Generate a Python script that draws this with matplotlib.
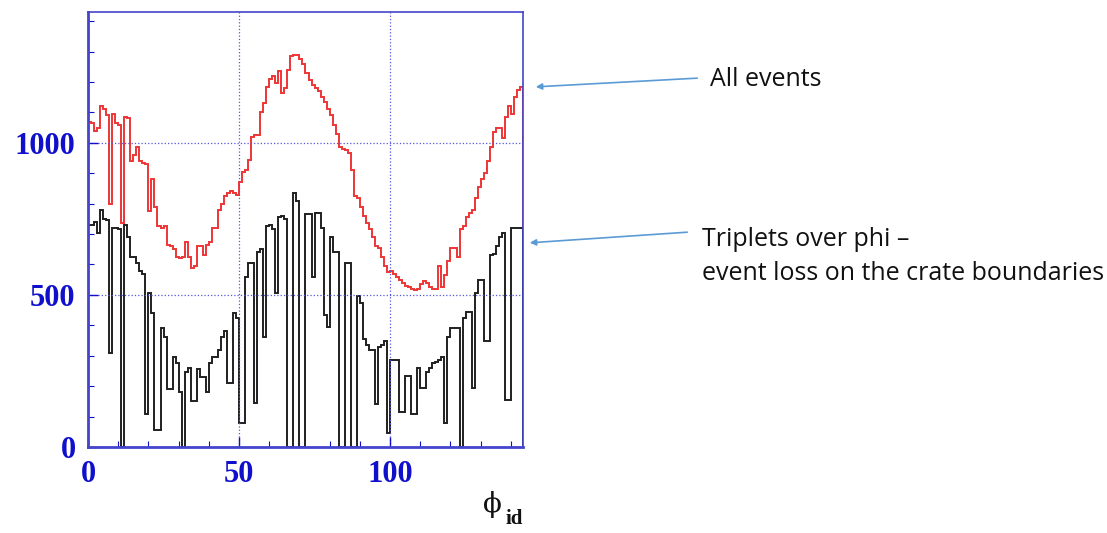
import numpy as np
import matplotlib.pyplot as plt
from matplotlib.ticker import MultipleLocator

# phi_id bins 0..143 (one bin per unit)
all_events = [
    1070, 1065, 1040, 1050, 1120, 1110, 1090, 800, 1095, 1065,
    1060, 735, 1085, 1080, 940, 960, 985, 940, 935, 930,
    775, 880, 790, 725, 720, 725, 665, 660, 650, 625,
    620, 625, 675, 625, 590, 595, 660, 660, 630, 665,
    675, 720, 720, 780, 800, 825, 835, 840, 835, 830,
    870, 905, 910, 945, 1020, 1025, 1025, 1100, 1130, 1185,
    1210, 1220, 1195, 1235, 1165, 1180, 1240, 1285, 1290, 1290,
    1275, 1258, 1230, 1205, 1190, 1180, 1170, 1150, 1135, 1110,
    1090, 1060, 1030, 985, 980, 975, 965, 910, 825, 820,
    790, 760, 735, 715, 690, 660, 655, 625, 595, 575,
    580, 570, 560, 550, 540, 530, 525, 518, 515, 520,
    535, 545, 540, 525, 520, 520, 595, 525, 565, 610,
    655, 655, 625, 715, 725, 755, 770, 780, 820, 855,
    880, 900, 940, 985, 1035, 1050, 1050, 1015, 1085, 1120,
    1095, 1150, 1175, 1185,
]

triplets = [
    730, 730, 740, 705, 780, 750, 745, 310, 720, 720,
    715, 0, 730, 690, 625, 625, 605, 580, 570, 110,
    505, 440, 55, 55, 390, 360, 190, 190, 295, 275,
    180, 0, 245, 260, 150, 150, 255, 230, 230, 180,
    275, 295, 295, 320, 360, 380, 210, 210, 440, 425,
    80, 80, 560, 605, 605, 145, 640, 650, 360, 725,
    730, 715, 505, 755, 760, 750, 0, 0, 835, 810,
    0, 0, 765, 765, 560, 770, 770, 720, 435, 395,
    690, 640, 640, 0, 0, 605, 605, 0, 0, 495,
    475, 355, 335, 320, 320, 140, 330, 335, 350, 45,
    285, 285, 285, 115, 115, 235, 235, 110, 110, 260,
    195, 195, 245, 260, 275, 280, 285, 295, 80, 360,
    390, 390, 390, 0, 425, 445, 445, 195, 505, 550,
    550, 350, 350, 630, 635, 660, 690, 705, 155, 155,
    720, 720, 720, 720,
]

edges = np.arange(len(all_events) + 1)

blue = '#0f0fcc'
fig = plt.figure(figsize=(11.07, 5.33), dpi=100)
ax = fig.add_axes([88 / 1107, 86 / 533, 435 / 1107, 435 / 533])

ax.stairs(all_events, edges, baseline=0, color='#ee3535', lw=1.4)
ax.stairs(triplets, edges, baseline=0, color='#202020', lw=1.4)

ax.set_xlim(0, 144)
ax.set_ylim(0, 1430)

ax.xaxis.set_major_locator(MultipleLocator(50))
ax.xaxis.set_minor_locator(MultipleLocator(10))
ax.yaxis.set_major_locator(MultipleLocator(500))
ax.yaxis.set_minor_locator(MultipleLocator(100))
ax.grid(True, which='major', color='#5555dd', ls=':', lw=0.9)

for s in ax.spines.values():
    s.set_color('#4444cc')
    s.set_linewidth(1.2)
ax.spines['left'].set_linewidth(2.0)
ax.spines['bottom'].set_linewidth(2.0)

ax.tick_params(which='both', direction='in', colors=blue, top=False, right=False)
ax.tick_params(which='major', length=7, width=1.0)
ax.tick_params(which='minor', length=4, width=0.8)
ax.tick_params(axis='x', pad=9)
ax.tick_params(axis='y', pad=9)
for lab in ax.get_xticklabels() + ax.get_yticklabels():
    lab.set_fontfamily('Liberation Serif')
    lab.set_fontweight('bold')
    lab.set_fontsize(22)
    lab.set_color(blue)

# axis title: phi with subscript "id"
fig.text(492 / 1107, 1 - 505 / 533, '\u03d5', family='DejaVu Serif',
         fontsize=20, ha='center', va='center', color='#111111')
fig.text(514 / 1107, 1 - 519 / 533, 'id', family='Liberation Serif', fontweight='bold',
         fontsize=15, ha='center', va='center', color='#111111')

# annotations with arrows pointing at the curves
arrow = dict(arrowstyle='-|>', color='#5b9bd5', lw=1.2, mutation_scale=9)
ax.annotate('', xy=(533 / 1107, 1 - 87 / 533), xytext=(700 / 1107, 1 - 78 / 533),
            xycoords='figure fraction', textcoords='figure fraction', arrowprops=arrow)
ax.annotate('', xy=(527 / 1107, 1 - 243 / 533), xytext=(690 / 1107, 1 - 232 / 533),
            xycoords='figure fraction', textcoords='figure fraction', arrowprops=arrow)

txt = dict(family='Open Sans', fontsize=18, color='#111111', va='center', ha='left')
fig.text(710 / 1107, 1 - 80 / 533, 'All events', **txt)
fig.text(702 / 1107, 1 - 240 / 533, 'Triplets over phi \u2013', **txt)
fig.text(702 / 1107, 1 - 273 / 533, 'event loss on the crate boundaries', **txt)

fig.savefig('out.png', dpi=100)
